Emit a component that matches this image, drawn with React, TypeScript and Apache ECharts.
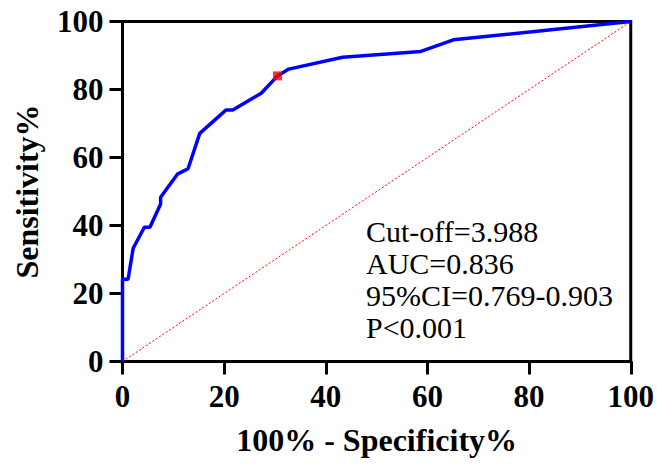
import React, { useEffect, useRef } from "react";
import * as echarts from "echarts";

const fpr = [0, 0, 1.1, 2.1, 4.3, 5.4, 7.5, 7.5, 10.8, 12.9, 15.2, 20.4, 21.7, 27.3, 30.5, 32.7, 43.3, 58.7, 65.1, 100];
const tpr = [0, 24.2, 24.2, 33.3, 39.5, 39.5, 46.3, 48.3, 55.1, 56.7, 67.1, 74.0, 74.0, 78.9, 84.0, 86.0, 89.5, 91.2, 94.6, 100];
const cutoffPoint = [30.5, 84.0];
const refLine = [[0, 0], [100, 100]];
const statsLines = ["Cut-off=3.988", "AUC=0.836", "95%CI=0.769-0.903", "P<0.001"];
const xTitle = "100% - Specificity%";
const yTitle = "Sensitivity%";

const FONT = "'Liberation Serif', 'Times New Roman', serif";

export default function App() {
  const ref = useRef<HTMLDivElement>(null);
  useEffect(() => {
    document.body.style.margin = "0";
    const chart = echarts.init(ref.current!, null, { renderer: "svg" });
    const axisCommon = {
      type: "value" as const,
      min: 0,
      max: 100,
      interval: 20,
      splitLine: { show: false },
      axisLine: { show: true, onZero: false, lineStyle: { color: "#000", width: 3 } },
      axisTick: { show: true, inside: false, length: 13, lineStyle: { color: "#000", width: 3 } },
      axisLabel: {
        color: "#000",
        fontFamily: FONT,
        fontWeight: "bold" as const,
        fontSize: 31,
        margin: 19,
      },
      nameLocation: "middle" as const,
      nameTextStyle: {
        color: "#000",
        fontFamily: FONT,
        fontWeight: "bold" as const,
        fontSize: 32,
      },
    };
    chart.setOption({
      animation: false,
      backgroundColor: "#fff",
      grid: {
        left: 122.5,
        right: 25,
        top: 21.5,
        bottom: 102.5,
        show: true,
        borderColor: "#000",
        borderWidth: 3,
      },
      xAxis: { ...axisCommon, name: xTitle, nameGap: 62 },
      yAxis: { ...axisCommon, name: yTitle, nameGap: 80 },
      series: [
        {
          type: "line",
          data: refLine,
          symbol: "none",
          lineStyle: { color: "#ff0000", width: 1, type: [2, 2] },
          z: 1,
        },
        {
          type: "line",
          data: fpr.map((x, i) => [x, tpr[i]]),
          symbol: "none",
          lineStyle: { color: "#0000ff", width: 3.5 },
          z: 2,
        },
        {
          type: "scatter",
          data: [cutoffPoint],
          symbol: "rect",
          symbolSize: 9,
          itemStyle: { color: "#ff0000" },
          z: 3,
        },
      ],
      graphic: [
        {
          type: "text",
          left: 366,
          top: 215,
          style: {
            text: statsLines.join("\n"),
            fontFamily: FONT,
            fontSize: 30,
            lineHeight: 32,
            fill: "#000",
          },
        },
      ],
    });
    return () => chart.dispose();
  }, []);
  return <div ref={ref} style={{ width: 657, height: 464 }} />;
}
